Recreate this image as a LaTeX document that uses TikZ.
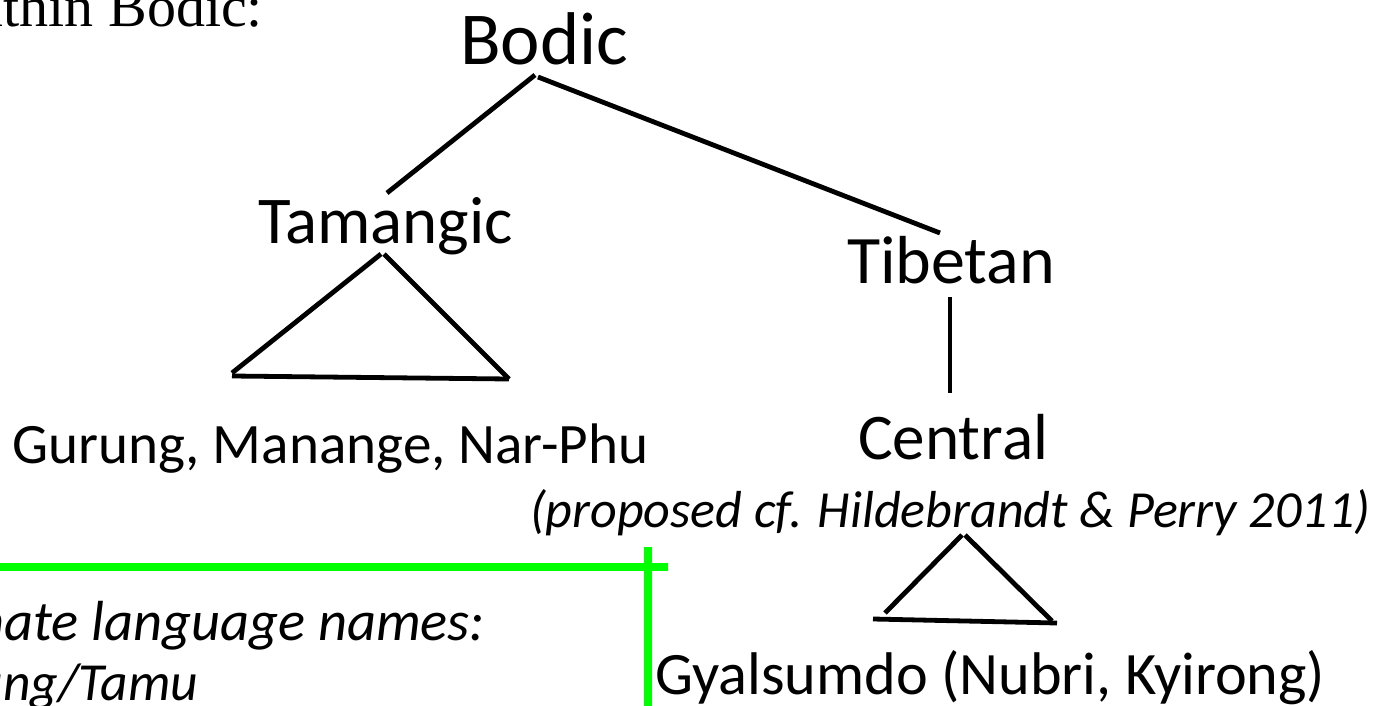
\documentclass[tikz,border=0pt]{standalone}
\usepackage{fontspec}
\setmainfont{Carlito}
\newfontfamily\timesfont{Liberation Serif}
\newcommand\fitw[2]{\resizebox{#1pt}{!}{\strut#2}}
\tikzset{
  lbl/.style={inner sep=0pt, outer sep=0pt, anchor=base west},
  branch/.style={line width=4.8pt, black},
  greenline/.style={line width=8pt, color={rgb,255:red,0;green,255;blue,0}},
}
\begin{document}
\begin{tikzpicture}[x=1pt,y=-1pt]
\useasboundingbox (0,0) rectangle (1379,706);
\clip (0,0) rectangle (1379,706);
% texts
\node[lbl, anchor=base east] (intro) at (263,27) {\timesfont\fontsize{58}{60}\selectfont within Bodic:};
\node[lbl] (bodic) at (460,65) {\fitw{168}{Bodic}};
\node[lbl] (tamangic) at (258,243) {\fitw{255}{Tamangic}};
\node[lbl] (tibetan) at (847,283) {\fitw{208}{Tibetan}};
\node[lbl] (gurung) at (12,463) {\fitw{636}{Gurung, Manange, Nar-Phu}};
\node[lbl] (central) at (858,459) {\fitw{190}{Central}};
\node[lbl] (proposed) at (530,527) {\fitw{840}{\itshape (proposed cf. Hildebrandt \& Perry 2011)}};
\node[lbl] (gyal) at (655,694) {\fitw{670}{Gyalsumdo (Nubri, Kyirong)}};
\node[lbl, anchor=base east] (alt) at (485,640) {\fitw{620}{\itshape Alternate language names:}};
\node[lbl, anchor=base east] (tamu) at (198,700) {\fitw{302}{\itshape Gurung/Tamu}};
% tree coordinates
\coordinate (b1) at (535,75);
\coordinate (b2) at (538,77);
\coordinate (tm) at (387,193);
\coordinate (tb) at (940,233);
\coordinate (ta) at (381,254);
\coordinate (tb1) at (384,254);
\coordinate (tl) at (232,373);
\coordinate (tr) at (509,379);
\coordinate (bl) at (232,376);
\coordinate (vt) at (950,297);
\coordinate (vb) at (950,393);
\coordinate (ca) at (962,535);
\coordinate (ca2) at (965,535);
\coordinate (cl) at (885,613);
\coordinate (cr) at (1052,621);
\coordinate (cbl) at (873,619);
\coordinate (cbr) at (1057,623);
\draw[branch] (b1) -- (tm);
\draw[branch] (b2) -- (tb);
\draw[branch] (ta) -- (tl);
\draw[branch] (tb1) -- (tr);
\draw[branch] (bl) -- (tr);
\draw[branch] (vt) -- (vb);
\draw[branch] (ca) -- (cl);
\draw[branch] (ca2) -- (cr);
\draw[branch] (cbl) -- (cbr);
% green
\coordinate (gh1) at (-5,567);
\coordinate (gh2) at (668,567);
\coordinate (gv1) at (648,547);
\coordinate (gv2) at (648,715);
\draw[greenline] (gh1) -- (gh2);
\draw[greenline] (gv1) -- (gv2);
\end{tikzpicture}
\end{document}
